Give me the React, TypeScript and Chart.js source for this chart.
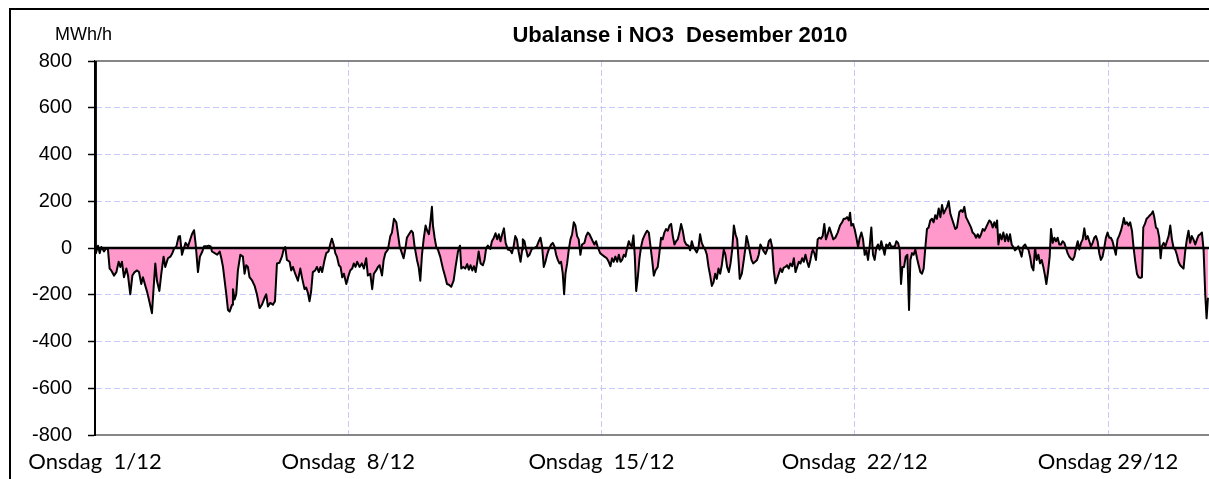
import React, { useEffect, useRef } from "react";
import { Chart, registerables } from "chart.js";

Chart.register(...registerables);

// Hourly imbalance NO3, December 2010: [hour since 1/12 00:00, MWh/h]
const week1: [number, number][] = [
  [0, 800], [0.6, -22], [2.0, 10], [3.1, -22], [4.2, 4], [6.0, -15], [7.5, 0], [8.6, -7], [9.7, -88], [10.8, -96],
  [12.6, -118], [14.2, -103], [15.7, -59], [16.8, -81], [17.9, -59], [19.2, -125], [20.8, -88], [21.9, -118], [23.4, -198], [24.8, -118],
  [26.3, -103], [27.9, -96], [29.2, -103], [30.7, -154], [31.8, -125], [33.4, -162], [34.7, -191], [36.3, -235], [37.8, -279], [38.9, -169],
  [40.0, -66], [41.1, -140], [42.7, -184], [44.0, -110], [45.5, -37], [46.6, -81], [48.4, -44], [50.0, -37], [51.3, -22], [52.4, -4],
  [54.0, 7], [55.5, 49], [56.4, 51], [57.7, -29], [59.0, 0], [60.1, 22], [61.7, 7], [62.8, 29], [64.3, 59], [65.7, 76],
  [66.8, 15], [68.3, -103], [69.6, -37], [71.2, -15], [72.3, 7], [73.8, 7], [75.4, 10], [76.7, 7], [77.6, -15], [79.4, -22],
  [81.1, -29], [82.7, -15], [83.8, -44], [84.9, -81], [86.0, -140], [87.1, -198], [88.2, -265], [89.3, -272], [90.9, -243],
];
const week2: [number, number][] = [
  [91.5, -176], [92.6, -220], [93.7, -198], [94.8, -96], [96.4, -29], [98.1, -37], [99.2, -110], [100.3, -74], [101.4, -81], [102.5, -125],
  [104.3, -140], [105.9, -162], [107.4, -198], [109.2, -257], [110.7, -243], [112.5, -213], [113.6, -198], [114.7, -250], [116.3, -235], [118.0, -243],
  [119.4, -228], [120.7, -66], [122.4, -63], [124.0, -37], [125.1, -7], [126.2, 4], [127.3, -51], [129.1, -59], [130.2, -96], [131.3, -81],
  [132.8, -110], [134.6, -140], [136.2, -88], [137.5, -132], [139.0, -176], [140.1, -169], [141.2, -191], [142.3, -228], [143.4, -184], [144.5, -103],
  [146.1, -96], [147.2, -81], [148.5, -103], [149.6, -81], [150.7, -103], [152.3, -51], [153.4, -22], [154.9, -15], [156.0, 15], [157.1, 40],
  [158.3, 15], [159.4, -22], [160.5, -37], [161.8, -74], [162.9, -81], [164.0, -125], [165.1, -110], [166.7, -154], [168.2, -118], [169.3, -96],
  [170.6, -88], [171.7, -66], [172.8, -81], [173.9, -59], [175.5, -81], [177.0, -66], [178.4, -88], [179.9, -44], [181.0, -118], [182.6, -110],
  [183.9, -176], [185.0, -110], [186.5, -96],
];
const week3: [number, number][] = [
  [187.7, -81], [188.8, -74], [190.4, -118], [191.5, -51], [192.6, -22], [194.3, -7], [195.9, 51], [197.0, 66], [198.3, 125], [199.9, 110],
  [201.0, 59], [202.1, 7], [203.6, -22], [204.7, -44], [205.8, -7], [206.9, 44], [208.3, 59], [209.8, 74], [210.9, 66], [212.0, 7],
  [213.6, -51], [214.7, -81], [215.8, -140], [216.9, -29], [218.0, 37], [219.3, 96], [220.4, 74], [221.5, 59], [222.6, 118], [223.5, 176],
  [224.2, 96], [225.3, 44], [226.4, 4], [227.5, -7], [229.0, -37], [230.8, -88], [232.4, -125], [233.5, -154], [234.8, -157], [236.3, -166],
  [237.9, -140], [239.2, -81], [240.8, -15], [242.1, 10], [243.0, -88], [244.3, -81], [245.6, -88], [246.9, -69], [248.0, -93], [249.1, -74],
  [250.3, -96], [251.4, -78], [252.5, -103], [253.6, -59], [254.5, -15], [255.8, -66], [257.3, -74], [258.4, -51], [259.5, 0], [260.6, 10],
  [262.2, -4], [263.3, 29], [264.6, 44], [265.7, 63], [266.8, 37], [267.9, 59], [269.0, 29], [270.1, 59], [271.3, 84], [272.4, 22],
  [273.9, -7], [275.5, -10], [276.6, -22], [277.7, 7], [278.8, 51], [279.9, 37], [281.0, -15], [282.3, -59], [283.4, -7],
];
const week4: [number, number][] = [
  [283.8, 37], [284.9, 29], [286.0, -7], [287.1, -37], [288.2, -29], [289.8, -4], [291.5, 0], [293.1, 7], [294.4, 29], [295.5, 44],
  [296.6, 7], [297.7, -81], [298.8, -59], [299.9, -29], [301.0, -7], [302.6, 15], [303.7, 22], [304.8, 7], [305.9, -29], [307.0, -51],
  [308.1, -66], [309.2, -59], [310.3, -110], [311.2, -198], [312.1, -110], [313.2, -66], [314.3, -7], [315.4, 37], [316.5, 59], [317.6, 110],
  [318.7, 96], [319.8, 51], [320.9, 37], [322.0, -29], [323.1, 15], [324.7, 22], [325.8, 51], [326.9, 66], [328.0, 59], [329.1, 44],
  [330.2, 29], [331.3, 15], [332.4, 29], [333.5, 4], [335.1, -22], [336.4, -29], [338.0, -37], [339.5, -44], [340.8, -59], [341.9, -78],
  [343.0, -44], [344.1, -59], [345.2, -37], [346.4, -59], [347.5, -29], [348.6, -59], [349.7, -51], [350.8, -29], [351.9, -37], [353.0, 0],
  [354.1, 29], [355.0, 15], [356.1, 7], [357.2, 54], [358.1, -37], [359.0, -184], [360.1, -125], [361.2, -44], [362.3, 7], [363.4, 37],
  [364.9, 59], [366.2, 74], [367.4, 66], [368.5, 7], [369.6, -51], [370.7, -118], [371.8, -96], [373.3, -81], [374.4, -22], [375.5, 44],
  [376.6, 37], [377.7, 66], [378.8, 81],
];
const week5: [number, number][] = [
  [380.0, 74], [381.1, 96], [382.2, 103], [383.3, 51], [384.4, 15], [385.5, 29], [386.6, 37], [387.7, 66], [388.8, 103], [389.9, 74],
  [391.1, 29], [392.2, 15], [393.7, 10], [394.8, -10], [395.9, 29], [397.0, 4], [398.1, -7], [399.2, -19], [400.3, 0], [401.4, 59],
  [402.5, 22], [403.7, 4], [404.8, -7], [405.9, -29], [407.0, -81], [408.1, -118], [409.2, -162], [410.3, -147], [411.4, -110], [412.5, -132],
  [413.6, -88], [414.7, -110], [415.8, -74], [417.1, -7], [418.2, -29], [419.3, -81], [420.5, -103], [421.6, -66], [422.7, -7], [423.8, 96],
  [424.9, 59], [426.0, 37], [426.9, -51], [427.7, -132], [429.1, -110], [430.4, -51], [431.3, -7], [432.2, 51], [433.3, 22], [434.4, -15],
  [435.5, -51], [436.6, -66], [437.9, -59], [439.2, -51], [440.3, -29], [441.4, 15], [442.6, 0], [443.7, -15], [444.8, -25], [445.9, -7],
  [447.0, 29], [448.1, 37], [449.2, 4], [450.3, -96], [451.4, -151], [452.5, -132], [453.6, -110], [454.7, -88], [455.8, -103], [456.9, -84],
  [458.0, -81], [459.1, -74], [460.2, -88], [461.3, -66], [462.5, -78], [463.6, -44], [464.7, -103], [465.8, -81], [466.9, -59], [468.0, -66],
  [469.1, -44], [470.2, -59], [471.3, -29], [472.4, -59], [473.5, -81], [474.6, -51], [475.7, -15],
];
const week6: [number, number][] = [
  [476.1, -7], [477.2, -22], [478.3, -51], [479.4, 37], [480.5, 44], [481.6, 40], [482.7, 51], [483.8, 103], [484.9, 37], [486.0, 59],
  [487.2, 88], [488.3, 66], [489.8, 37], [491.1, 44], [492.7, 66], [494.2, 96], [495.6, 110], [496.7, 125], [497.8, 125], [498.9, 132],
  [500.0, 118], [500.9, 151], [501.7, 96], [502.8, 103], [503.9, 81], [505.1, 44], [506.2, 4], [507.3, 44], [508.4, 66], [509.5, 37],
  [510.6, -29], [511.7, -10], [512.8, -51], [513.9, 7], [515.0, 88], [516.1, -29], [517.2, -51], [518.3, 0], [519.4, 15], [520.5, -7],
  [521.6, 29], [522.7, 0], [523.8, -29], [524.9, 15], [526.1, 7], [527.2, 22], [528.3, 4], [529.4, 7], [530.5, 4], [531.6, 29],
  [532.7, 22], [533.8, -7], [534.7, -154], [535.6, -81], [536.7, -81], [537.8, -37], [538.9, -29], [540.0, -265], [540.9, -51], [542.0, -22],
  [543.1, -29], [544.2, -7], [545.3, -44], [546.4, -74], [547.5, -103], [548.6, -110], [549.7, -88], [550.8, 0], [551.9, 81], [553.0, 88],
  [554.1, 118], [555.2, 125], [556.3, 110], [557.4, 140], [558.5, 125], [559.7, 169], [560.8, 132], [561.9, 184], [563.0, 147], [564.1, 162],
  [565.2, 176], [566.3, 200], [567.4, 147], [568.5, 125], [569.6, 103], [570.7, 81], [571.8, 88],
];
const week7: [number, number][] = [
  [573.4, 154], [574.5, 162], [575.6, 154], [576.7, 176], [577.8, 132], [578.9, 118], [580.0, 103], [581.1, 88], [582.2, 66], [583.4, 59],
  [584.5, 44], [585.6, 59], [586.7, 44], [587.8, 59], [588.9, 81], [590.0, 74], [591.1, 88], [592.2, 103], [593.3, 118], [594.4, 110],
  [595.5, 88], [596.6, 110], [597.7, 88], [598.4, 118], [599.3, 15], [600.4, 59], [601.5, 37], [602.6, 66], [603.7, 29], [604.8, 59],
  [605.9, 29], [607.0, 59], [608.1, 15], [609.2, 4], [610.3, -10], [611.4, -4], [612.5, 7], [613.6, -15], [614.7, -37], [615.8, 7],
  [617.0, 15], [618.1, 0], [619.2, -7], [620.3, -37], [621.4, -81], [622.5, -96], [623.6, 0], [624.7, -51], [625.8, -29], [626.9, -66],
  [628.0, -51], [629.1, -81], [630.2, -118], [631.1, -154], [632.2, -103], [633.3, -37], [634.2, 81], [635.3, 22], [636.4, 44], [637.5, 29],
  [638.6, 44], [639.7, 15], [640.8, 15], [641.9, 29], [643.0, 22], [644.1, 0], [645.2, -22], [646.3, -37], [647.5, -47], [648.6, -51],
  [649.7, -37], [650.8, 0], [651.9, 29], [653.0, -7], [654.1, 22], [655.2, 37], [656.3, 84], [657.4, 37], [658.5, 51], [659.6, 29],
  [660.7, 7], [661.8, 22], [662.9, 44], [664.0, 51], [665.1, 29], [666.2, -22], [667.3, -51],
];
const week8: [number, number][] = [
  [668.4, -37], [669.5, 0], [670.6, 44], [671.7, 66], [672.8, 44], [673.9, 44], [675.0, 29], [676.1, 0], [677.2, -29], [678.3, 37],
  [679.5, 54], [680.6, 74], [681.7, 103], [682.5, 128], [683.4, 103], [684.5, 110], [685.6, 96], [686.7, 110], [687.9, 74], [689.0, 0],
  [690.1, -59], [691.2, -110], [692.3, -125], [693.4, -128], [694.5, -125], [695.4, 88], [696.5, 103], [697.6, 125], [698.7, 132], [699.8, 140],
  [700.9, 147], [701.8, 157], [702.7, 132], [703.8, 88], [704.9, 81], [706.0, 44], [706.9, -44], [707.7, 7], [708.9, 22], [710.0, 7],
  [711.1, 29], [712.2, 51], [713.3, 96], [714.4, 37], [715.5, 0], [716.6, -7], [717.7, -29], [718.8, -59], [719.9, -74], [721.0, -81],
  [722.1, -88], [723.2, -15], [724.3, 37], [725.4, 74], [726.5, 22], [727.6, 51], [728.7, 37], [729.9, 15], [731.0, 37], [732.1, 54],
  [733.2, 59], [734.3, 66], [735.4, -7], [736.5, -198], [737.4, -301], [738.3, -213],
];

const xTickHours = [0, 168, 336, 504, 672];
const xTickLabels = ["Onsdag  1/12", "Onsdag  8/12", "Onsdag  15/12", "Onsdag  22/12", "Onsdag 29/12"];
const yTickValues = [-800, -600, -400, -200, 0, 200, 400, 600, 800];
const titleText = "Ubalanse i NO3  Desember 2010";
const unitText = "MWh/h";

const allPoints = [...week1, ...week2, ...week3, ...week4, ...week5, ...week6, ...week7, ...week8].map(
  ([x, y]) => ({ x, y })
);

const decorPlugin = {
  id: "decor",
  beforeDatasetsDraw(chart: any) {
    const { ctx, chartArea } = chart;
    ctx.save();
    ctx.strokeStyle = "#868686";
    ctx.lineWidth = 2;
    ctx.beginPath();
    ctx.moveTo(chartArea.left, chartArea.top);
    ctx.lineTo(chartArea.right, chartArea.top);
    ctx.stroke();
    ctx.restore();
  },
  afterDatasetsDraw(chart: any) {
    const { ctx, chartArea } = chart;
    const y0 = chart.scales.y.getPixelForValue(0);
    ctx.save();
    ctx.strokeStyle = "#000";
    ctx.lineWidth = 2.5;
    ctx.beginPath();
    ctx.moveTo(chartArea.left, y0);
    ctx.lineTo(chartArea.right, y0);
    ctx.stroke();
    ctx.restore();
  },
  afterDraw(chart: any) {
    const { ctx } = chart;
    ctx.save();
    ctx.fillStyle = "#000";
    ctx.textBaseline = "alphabetic";
    ctx.font = 'bold 22px "Liberation Sans", Arial, sans-serif';
    ctx.textAlign = "center";
    ctx.fillText(titleText, 680, 42);
    ctx.font = '18px "Liberation Sans", Arial, sans-serif';
    ctx.textAlign = "left";
    ctx.fillText(unitText, 55, 40);
    ctx.restore();
  },
};

export default function App() {
  const ref = useRef<HTMLCanvasElement>(null);
  useEffect(() => {
    if (!ref.current) return;
    const chart = new Chart(ref.current, {
      type: "line",
      data: {
        datasets: [
          {
            data: allPoints,
            borderColor: "#000",
            borderWidth: 2,
            backgroundColor: "#ff99cc",
            fill: "origin",
            pointRadius: 0,
            tension: 0,
            borderJoinStyle: "round",
          },
        ],
      },
      options: {
        animation: false,
        responsive: false,
        devicePixelRatio: 1,
        layout: { padding: { top: 61, right: 0, bottom: 0, left: 0 } },
        plugins: { legend: { display: false }, tooltip: { enabled: false }, title: { display: false } },
        scales: {
          x: {
            type: "linear",
            min: 0,
            max: 739,
            afterFit: (s: any) => {
              s.height = 44;
              s.paddingLeft = 0;
              s.paddingRight = 0;
            },
            afterBuildTicks: (s: any) => {
              s.ticks = xTickHours.map((v) => ({ value: v }));
            },
            ticks: {
              autoSkip: false,
              maxRotation: 0,
              minRotation: 0,
              padding: 14,
              color: "#000",
              font: { family: "Lato, 'Open Sans', sans-serif", size: 22 },
              callback: (v: any) => xTickLabels[xTickHours.indexOf(Number(v))] ?? "",
            },
            grid: { color: "#c8c8fa", lineWidth: 1, drawTicks: false },
            border: { color: "#868686", width: 2, dash: [6, 3] },
          },
          y: {
            min: -800,
            max: 800,
            afterFit: (s: any) => {
              s.width = 95;
              s.paddingTop = 0;
              s.paddingBottom = 0;
            },
            afterBuildTicks: (s: any) => {
              s.ticks = yTickValues.map((v) => ({ value: v }));
            },
            ticks: {
              padding: 16,
              color: "#000",
              font: { family: "'Liberation Sans', Arial, sans-serif", size: 20 },
              callback: (v: any) => String(v),
            },
            grid: {
              color: (c: any) =>
                c.tick && (Math.abs(c.tick.value) === 800 || c.tick.value === 0) ? "rgba(0,0,0,0)" : "#c8c8fa",
              lineWidth: 1,
              tickLength: 7,
              tickColor: "#000",
              tickWidth: 1.5,
              tickBorderDash: [],
            },
            border: { color: "#000", width: 2, dash: [6, 3] },
          },
        },
      },
      plugins: [decorPlugin],
    } as any);
    return () => chart.destroy();
  }, []);

  return (
    <div style={{ position: "fixed", left: 0, top: 0, width: 1209, height: 479, overflow: "hidden", background: "#fff" }}>
      <div
        style={{
          position: "absolute",
          left: 9,
          top: 8,
          width: 1400,
          height: 700,
          borderTop: "2px solid #000",
          borderLeft: "2px solid #000",
        }}
      />
      <canvas ref={ref} width={1209} height={479} style={{ position: "absolute", left: 0, top: 0, width: 1209, height: 479 }} />
    </div>
  );
}
